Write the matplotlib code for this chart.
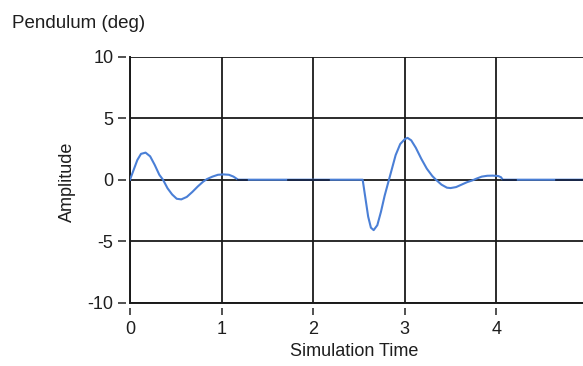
import numpy as np
import matplotlib
matplotlib.use("Agg")
import matplotlib.pyplot as plt

# Simulation output (time, pendulum angle in degrees)
t = [0.00, 0.04, 0.08, 0.12, 0.17, 0.22, 0.27, 0.32, 0.36, 0.41, 0.46, 0.51, 0.56,
     0.62, 0.68, 0.74, 0.80, 0.84, 0.90, 0.96, 1.02, 1.08, 1.13, 1.17, 1.18,
     2.54, 2.57, 2.60, 2.63, 2.66, 2.70, 2.74, 2.78, 2.82, 2.86, 2.90, 2.95, 3.00,
     3.03, 3.07, 3.12, 3.18, 3.24, 3.30, 3.34, 3.40, 3.46, 3.50, 3.56, 3.62, 3.68,
     3.74, 3.78, 3.84, 3.90, 3.96, 4.02, 4.05, 4.07, 5.00]
amp = [0.0, 0.8, 1.6, 2.1, 2.2, 1.9, 1.2, 0.4, 0.0, -0.7, -1.2, -1.55, -1.6,
       -1.4, -1.0, -0.55, -0.15, 0.05, 0.25, 0.4, 0.43, 0.4, 0.25, 0.05, 0.0,
       0.0, -1.5, -3.0, -3.9, -4.1, -3.7, -2.6, -1.3, -0.2, 0.9, 2.0, 2.9, 3.3,
       3.4, 3.2, 2.6, 1.7, 0.9, 0.3, 0.0, -0.4, -0.65, -0.68, -0.6, -0.4, -0.2,
       -0.05, 0.08, 0.25, 0.32, 0.33, 0.3, 0.2, 0.0, 0.0]

# dark settled-state segments on the zero line (NaN separates segments)
settle_t = [1.18, 1.28, np.nan, 1.73, 2.17, np.nan, 4.07, 4.21, np.nan, 4.65, 5.00]
settle_y = [0.0, 0.0, np.nan, 0.0, 0.0, np.nan, 0.0, 0.0, np.nan, 0.0, 0.0]

x_ticks = [0, 1, 2, 3, 4, 5]
y_ticks = [-10, -5, 0, 5, 10]

plt.rcParams["font.family"] = ["Liberation Sans", "DejaVu Sans"]
TXT = "#1e1e1e"
FS = 13

W, H = 583, 366
fig = plt.figure(figsize=(W / 100, H / 100), dpi=100)
fig.patch.set_facecolor("white")

left_px, right_px, top_px, bottom_px = 130, 588, 56.7, 302.7
aw, ah = right_px - left_px, bottom_px - top_px
ax = fig.add_axes([left_px / W, 1 - bottom_px / H, aw / W, ah / H])

ax.set_xlim(0, 5)
ax.set_ylim(-10, 10)
ax.set_xticks(x_ticks)
ax.set_yticks(y_ticks)
ax.set_xticklabels([str(v) for v in x_ticks])
ax.set_yticklabels([str(v) for v in y_ticks])

ax.grid(True, color="#1a1a1a", linewidth=1.3)
ax.set_axisbelow(True)
for s in ["top", "right"]:
    ax.spines[s].set_visible(False)
for s in ["left", "bottom"]:
    ax.spines[s].set_color("#1a1a1a")
    ax.spines[s].set_linewidth(1.4)

# labels only; tick marks drawn below with a small gap from the axis
ax.tick_params(axis="both", length=0, labelsize=FS, labelcolor=TXT)
ax.tick_params(axis="x", pad=13.5)
ax.tick_params(axis="y", pad=12)

ax.vlines(x_ticks, -5 / ah, -12.3 / ah, transform=ax.get_xaxis_transform(),
          colors="#333333", linewidth=1.2, clip_on=False)
ax.hlines(y_ticks, -4 / aw, -12 / aw, transform=ax.get_yaxis_transform(),
          colors="#333333", linewidth=1.2, clip_on=False)

ax.plot(t, amp, color="#4a7fd6", linewidth=1.5, zorder=3)
ax.plot(settle_t, settle_y, color="#111a33", linewidth=1.2, zorder=4)

ax.set_xlabel("Simulation Time", fontsize=FS, color=TXT)
ax.xaxis.set_label_coords((354 - left_px) / aw, -(343 - bottom_px) / ah)
ax.set_ylabel("Amplitude", fontsize=FS, color=TXT)
ax.yaxis.set_label_coords(-(left_px - 76) / aw, 0.49)

fig.text(12 / W, 1 - 15 / H, "Pendulum (deg)", fontsize=13.5, color=TXT,
         ha="left", va="top")

fig.savefig("out.png", dpi=100, facecolor="white")
